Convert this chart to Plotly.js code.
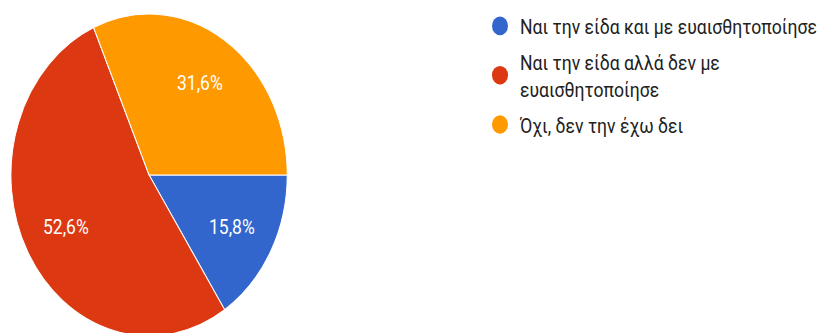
<!DOCTYPE html>
<html>
<head>
<meta charset="utf-8">
<script src="https://cdn.plot.ly/plotly-3.0.1.min.js"></script>
<style>
  html, body { margin: 0; padding: 0; background: #fff; overflow: hidden; width: 822px; height: 333px; }
  #chart { width: 822px; height: 300px; transform: scale(1, 1.165); transform-origin: 0 0; }
</style>
</head>
<body>
<div id="chart"></div>
<script>
// Data
const categories = [
  "Ναι την είδα και με ευαισθητοποίησε",
  "Ναι την είδα αλλά δεν με ευαισθητοποίησε",
  "Όχι, δεν την έχω δει"
];
const legendLabels = [
  "Ναι την είδα και με ευαισθητοποίησε",
  "Ναι την είδα αλλά δεν με<br>ευαισθητοποίησε",
  "Όχι, δεν την έχω δει"
];
const counts = [3, 10, 6];
const colors = ["#3366cc", "#dc3912", "#ff9900"];

const domain = { x: [11/822, 289/822], y: [0.036, 0.9627] };
const rotation = 90;          // first slice starts at 3 o'clock
const labelRadius = 0.68;     // labels sit at this fraction of the radius

const pie = {
  type: "pie",
  labels: categories,
  values: counts,
  sort: false,
  direction: "clockwise",
  rotation: rotation,
  marker: { colors: colors, line: { color: "#ffffff", width: 1 } },
  textinfo: "none",
  hoverinfo: "none",
  showlegend: false,
  domain: domain
};

const legendTraces = categories.map((c, i) => ({
  type: "scatter",
  mode: "markers",
  x: [null], y: [null],
  name: legendLabels[i],
  legendgroup: "g" + i,
  marker: { color: colors[i], size: 16, symbol: "circle" },
  hoverinfo: "none",
  showlegend: true
}));

// Percent labels placed along each slice's mid-angle
const W = 822, H = 300;
const total = counts.reduce((a, b) => a + b, 0);
const cx = (domain.x[0] + domain.x[1]) / 2;
const cy = (domain.y[0] + domain.y[1]) / 2;
const rPx = Math.min((domain.x[1] - domain.x[0]) * W, (domain.y[1] - domain.y[0]) * H) / 2;
let cum = 0;
const annotations = counts.map((v, i) => {
  const f = v / total;
  const mid = cum + f / 2;
  cum += f;
  const ang = (90 - rotation - 360 * mid) * Math.PI / 180;
  return {
    xref: "paper", yref: "paper",
    x: cx + labelRadius * rPx * Math.cos(ang) / W,
    y: cy + labelRadius * rPx * Math.sin(ang) / H,
    text: (f * 100).toFixed(1).replace(".", ",") + "%",
    showarrow: false,
    xanchor: "center", yanchor: "middle",
    font: { family: "Roboto, Arial, sans-serif", size: 17.5, color: "#ffffff" }
  };
});

const layout = {
  width: W, height: H,
  margin: { l: 0, r: 0, t: 0, b: 0 },
  paper_bgcolor: "#ffffff",
  plot_bgcolor: "#ffffff",
  xaxis: { visible: false, domain: [0.6, 0.61] },
  yaxis: { visible: false },
  annotations: annotations,
  showlegend: true,
  legend: {
    x: 483/822, xanchor: "left",
    y: 1 - 4.3/300, yanchor: "top",
    font: { family: "Roboto, Arial, sans-serif", size: 17.6, color: "#212121" },
    tracegroupgap: 5,
    itemclick: false
  }
};

Plotly.newPlot("chart", [pie].concat(legendTraces), layout, { displayModeBar: false, staticPlot: true });
</script>
</body>
</html>
